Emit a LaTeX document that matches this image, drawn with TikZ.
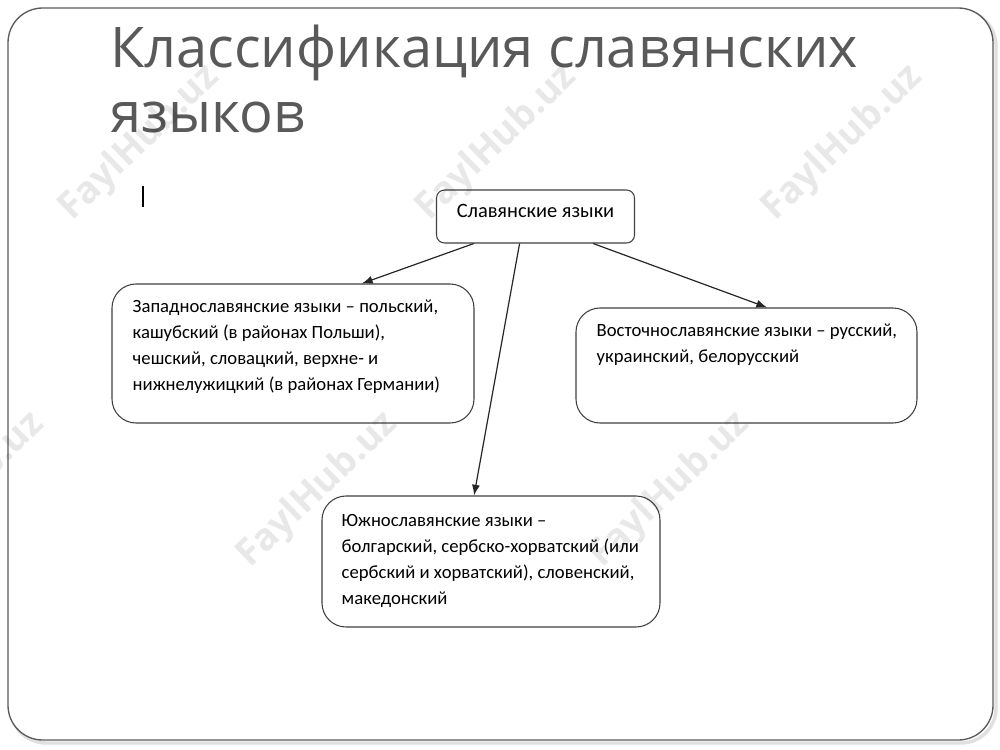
\documentclass[tikz,border=0pt]{standalone}
\usepackage{fontspec}
\setmainfont{Carlito}
\newfontfamily\titlefont{Open Sans}
\usepackage{tikz}
\usepackage{xcolor}
\usetikzlibrary{arrows.meta, positioning, calc}

\definecolor{titlegray}{HTML}{595959}
\definecolor{framegray}{HTML}{5A5A5A}

\begin{document}
\begin{tikzpicture}[
            x=0.75pt, y=-0.75pt,
            langbox/.style={rectangle, draw=black!75, line width=0.8pt, rounded corners=18pt, inner sep=0pt},
            boxtext/.style={anchor=base west, align=left, inner sep=0pt, font=\fontsize{14}{19.5}\selectfont},
            rootbox/.style={rectangle, draw=black!75, line width=0.8pt, rounded corners=6pt, align=center, font=\fontsize{15.3}{18}\selectfont, text height=10pt, text depth=8.5pt, minimum width=148.5pt, minimum height=39.75pt},
            wmark/.style={font=\titlefont\bfseries\fontsize{28}{30}\selectfont, text=black, opacity=0.09, rotate=44},
            branch/.style={-{Latex[length=8pt,width=6pt]}, line width=0.9pt, black!85}
        ]
\clip (0,0) rectangle (1000,750);

% Slide frame
            \fill[white] (0,0) rectangle (1000,750);
            \draw[rounded corners=26pt, black!12, line width=2.5pt] (11,11) rectangle (996,743);
            \draw[rounded corners=26pt, draw=framegray, fill=white, line width=1pt] (8,8) rectangle (993,740);

% Title
            \node[anchor=base west, inner sep=0pt, align=left, text=titlegray, font=\titlefont\fontsize{42}{48.75}\selectfont] (title) at (110,132) {Классификация славянских\\языков};
            \draw[black, line width=1pt] (143,186) -- (143,207);

% Boxes
            \node[rootbox] (root) at (535.5,216.5) {Славянские языки};
            \node[langbox, minimum width=271.5pt, minimum height=104.25pt] (west) at (293,353.5) {};
            \node[langbox, minimum width=255.75pt, minimum height=86.25pt] (east) at (746.5,365.5) {};
            \node[langbox, minimum width=253.5pt, minimum height=98.25pt] (south) at (491,561.5) {};

% Box texts
            \node[boxtext] (westtext) at ([shift={(21,107)}]west.north west)
                {Западнославянские языки – польский,\\кашубский (в районах Польши),\\чешский, словацкий, верхне- и\\нижнелужицкий (в районах Германии)};
            \node[boxtext] (easttext) at ([shift={(21,55)}]east.north west)
                {Восточнославянские языки – русский,\\украинский, белорусский};
            \node[boxtext] (southtext) at ([shift={(20,109)}]south.north west)
                {Южнославянские языки –\\болгарский, сербско-хорватский (или\\сербский и хорватский), словенский,\\македонский};

% Arrows
            \draw[branch] ($(root.south west)!0.19!(root.south east)$) -- ($(west.north west)!0.69!(west.north east)$);
            \draw[branch] ($(root.south west)!0.42!(root.south east)$) -- ($(south.north west)!0.45!(south.north east)$);
            \draw[branch] ($(root.south west)!0.79!(root.south east)$) -- ($(east.north west)!0.56!(east.north east)$);

% Watermarks
            \foreach \wx/\wy [count=\wi] in {140/143, 497/143, 843/143, -35/490, 318/490, 670/490}
                \node[wmark] (wm\wi) at (\wx,\wy) {FaylHub.uz};

        \end{tikzpicture}
\end{document}
